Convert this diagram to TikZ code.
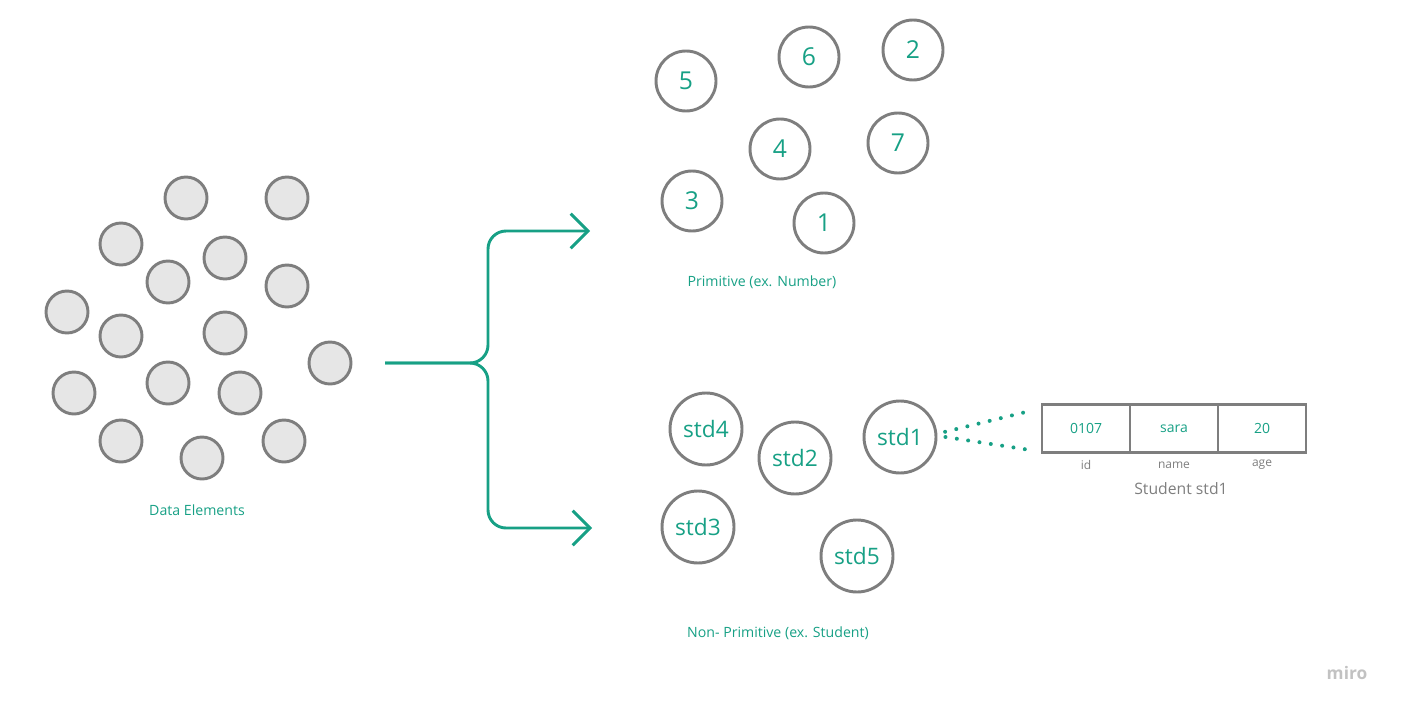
\documentclass[tikz,border=0pt]{standalone}
\usepackage{fontspec}
\setmainfont{Open Sans}
\usetikzlibrary{arrows.meta}

\definecolor{mirogreen}{HTML}{17A085}
\definecolor{mirogray}{HTML}{7E7E7E}
\definecolor{elemfill}{HTML}{E6E6E6}

\tikzset{
    elem/.style={circle, draw=mirogray, fill=elemfill, line width=2.2pt, inner sep=0pt, minimum size=31.5pt},
    prim/.style={circle, draw=mirogray, line width=2.2pt, inner sep=0pt, minimum size=45pt, text=mirogreen, font=\fontsize{18.5}{20}\selectfont},
    stud/.style={circle, draw=mirogray, line width=2.2pt, inner sep=0pt, minimum size=54pt, text=mirogreen, font=\fontsize{17}{19}\selectfont},
    caption/.style={text=mirogreen, font=\fontsize{10.6}{12}\selectfont},
    cell/.style={rectangle, draw=mirogray, line width=2.2pt, inner sep=0pt, minimum width=66pt, minimum height=36pt, text=mirogreen, font=\fontsize{10.5}{12}\selectfont},
    field/.style={text=mirogray, font=\fontsize{9}{11}\selectfont},
    flow/.style={draw=mirogreen, line width=2.2pt, rounded corners=13.5pt, -{Straight Barb[length=13pt,width=26pt]}},
    link/.style={draw=mirogreen, line width=3pt, line cap=round, dash pattern=on 0pt off 8.6pt}
}

\begin{document}
\begin{tikzpicture}[x=0.75pt, y=-0.75pt]
    \useasboundingbox (0,0) rectangle (1402,713);

    % Data elements (unsorted)
    \node[elem] (d1) at (186,198) {};
    \node[elem] (d2) at (287,198) {};
    \node[elem] (d3) at (121,244) {};
    \node[elem] (d4) at (225,258) {};
    \node[elem] (d5) at (168,282) {};
    \node[elem] (d6) at (287,286) {};
    \node[elem] (d7) at (67,312) {};
    \node[elem] (d8) at (121,336) {};
    \node[elem] (d9) at (225,333) {};
    \node[elem] (d10) at (330,363) {};
    \node[elem] (d11) at (74,393) {};
    \node[elem] (d12) at (168,383) {};
    \node[elem] (d13) at (240,393) {};
    \node[elem] (d14) at (121,441) {};
    \node[elem] (d15) at (202,458) {};
    \node[elem] (d16) at (284,441) {};
    \node[caption] (datalbl) at (197,510) {Data Elements};

    % Split into the two kinds
    \coordinate (src) at (385,363);
    \coordinate (fork) at (488,363);
    \coordinate (toprim) at (590,231);
    \coordinate (tononprim) at (592,528);
    \draw[flow] (src) -- (fork) |- (toprim);
    \draw[flow] (src) -- (fork) |- (tononprim);

    % Primitive values
    \node[prim] (n5) at (686,81) {5};
    \node[prim] (n6) at (809,57) {6};
    \node[prim] (n2) at (913,50) {2};
    \node[prim] (n4) at (780,149) {4};
    \node[prim] (n7) at (898,143) {7};
    \node[prim] (n3) at (692,201) {3};
    \node[prim] (n1) at (824,223) {1};
    \node[caption] (primlbl) at (762,282) {Primitive (ex. Number)};

    % Non-primitive values
    \node[stud] (std4) at (706,429) {std4};
    \node[stud] (std2) at (795,458) {std2};
    \node[stud] (std1) at (900,437) {std1};
    \node[stud] (std3) at (698,527) {std3};
    \node[stud] (std5) at (857,556) {std5};
    \node[caption] (nonprimlbl) at (778,633) {Non- Primitive (ex. Student)};

    % Record of std1
    \node[cell] (cid) at (1086,428.5) {0107};
    \node[cell] (cname) at (1174,428.5) {sara};
    \node[cell] (cage) at (1262,428.5) {20};
    \node[field] (fid) at (1086,465) {id};
    \node[field] (fname) at (1174,465) {name};
    \node[field] (fage) at (1262,465) {age};
    \node[text=mirogray, font=\fontsize{11.8}{13}\selectfont] (reclbl) at (1181,489) {Student std1};

    % Dotted zoom lines
    \coordinate (zoomtop) at (1030,411);
    \coordinate (zoombot) at (1030,450);
    \draw[link] ([xshift=6pt]std1.8) -- (zoomtop);
    \draw[link] ([xshift=6pt]std1.0) -- (zoombot);

    \node[text=black!24, font=\bfseries\fontsize{13}{15}\selectfont] (logo) at (1347,673) {miro};
\end{tikzpicture}
\end{document}
